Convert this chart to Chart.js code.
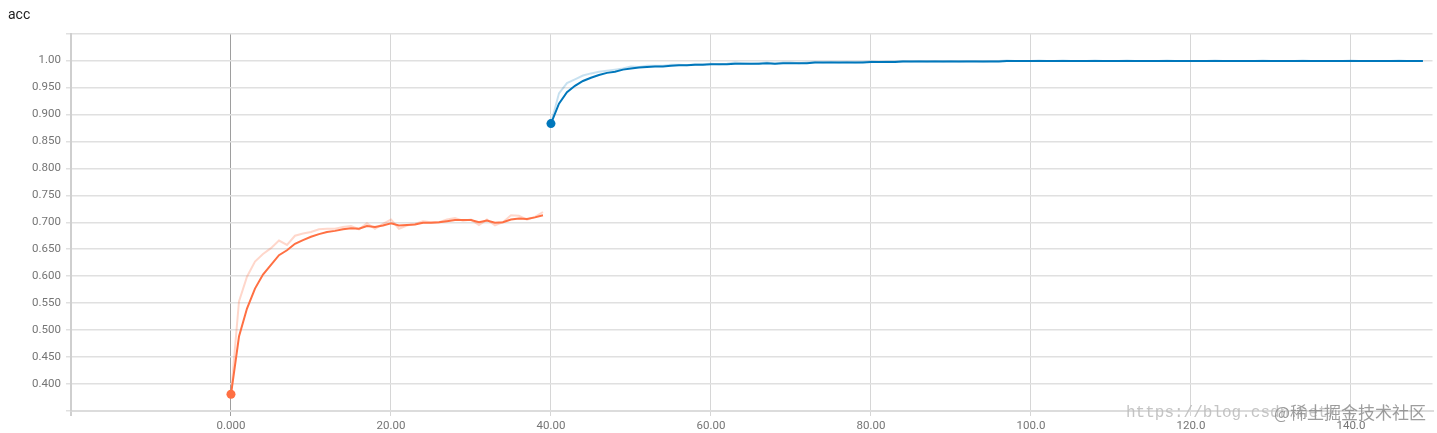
<!DOCTYPE html>
<html><head><meta charset="utf-8">
<script src="https://cdn.jsdelivr.net/npm/chart.js@4"></script>
<style>html,body{margin:0;padding:0;background:#fff;overflow:hidden}#wrap{width:1437px;height:433px;position:relative}</style>
</head><body><div id="wrap"><canvas id="c" width="1437" height="433"></canvas></div>
<script>
const titleText = 'acc';
const orangeStart = 0;
const orangeSmoothed = [
  0.381, 0.488, 0.540, 0.577, 0.603, 0.621, 0.639, 0.648, 0.660, 0.667,
  0.673, 0.678, 0.682, 0.684, 0.687, 0.689, 0.688, 0.693, 0.691, 0.694,
  0.698, 0.694, 0.695, 0.696, 0.699, 0.699, 0.700, 0.702, 0.704, 0.704,
  0.704, 0.700, 0.703, 0.699, 0.700, 0.705, 0.707, 0.706, 0.709, 0.713
];
const orangeRaw = [
  0.381, 0.553, 0.599, 0.627, 0.641, 0.652, 0.666, 0.658, 0.675, 0.679,
  0.682, 0.687, 0.688, 0.688, 0.691, 0.693, 0.687, 0.698, 0.688, 0.697,
  0.705, 0.688, 0.694, 0.697, 0.702, 0.700, 0.700, 0.705, 0.708, 0.703,
  0.705, 0.695, 0.705, 0.694, 0.700, 0.713, 0.712, 0.705, 0.710, 0.719
];
const blueStart = 40;
const blueSmoothed = [
  0.883, 0.920, 0.941, 0.953, 0.962, 0.968, 0.973, 0.977, 0.979, 0.983,
  0.985, 0.987, 0.988, 0.989, 0.989, 0.990, 0.991, 0.991, 0.992, 0.992,
  0.993, 0.993, 0.993, 0.994, 0.994, 0.994, 0.994, 0.995, 0.994, 0.995,
  0.995, 0.995, 0.995, 0.996, 0.996, 0.996, 0.996, 0.996, 0.996, 0.996,
  0.997, 0.997, 0.997, 0.997, 0.998, 0.998, 0.998, 0.998, 0.998, 0.998,
  0.998, 0.998, 0.998, 0.998, 0.998, 0.998, 0.998, 0.999, 0.999, 0.999,
  0.999, 0.999, 0.999, 0.999, 0.999, 0.999, 0.999, 0.999, 0.999, 0.999,
  0.999, 0.999, 0.999, 0.999, 0.999, 0.999, 0.999, 0.999, 0.999, 0.999,
  0.999, 0.999, 0.999, 0.999, 0.999, 0.999, 0.999, 0.999, 0.999, 0.999,
  0.999, 0.999, 0.999, 0.999, 0.999, 0.999, 0.999, 0.999, 0.999, 0.999,
  0.999, 0.999, 0.999, 0.999, 0.999, 0.999, 0.999, 0.999, 0.999, 0.999
];
const blueRaw = [
  0.883, 0.939, 0.958, 0.965, 0.972, 0.976, 0.979, 0.981, 0.983, 0.985,
  0.989, 0.988, 0.990, 0.990, 0.990, 0.992, 0.992, 0.991, 0.993, 0.993,
  0.994, 0.993, 0.994, 0.996, 0.995, 0.994, 0.995, 0.996, 0.994, 0.996,
  0.996, 0.995, 0.996, 0.997, 0.996, 0.997, 0.996, 0.997, 0.996, 0.997,
  0.998, 0.997, 0.998, 0.998, 0.999, 0.998, 0.999, 0.998, 0.999, 0.998,
  0.999, 0.998, 0.999, 0.999, 0.998, 0.999, 0.999, 1.000, 0.999, 0.999,
  0.999, 1.000, 0.999, 0.999, 1.000, 0.999, 0.999, 0.999, 1.000, 0.999,
  0.999, 0.999, 1.000, 0.999, 0.999, 0.999, 0.999, 1.000, 0.999, 0.999,
  0.999, 0.999, 0.999, 1.000, 0.999, 0.999, 0.999, 0.999, 0.999, 1.000,
  0.999, 0.999, 0.999, 0.999, 1.000, 0.999, 0.999, 0.999, 0.999, 0.999,
  1.000, 0.999, 0.999, 0.999, 0.999, 0.999, 1.000, 0.999, 0.999, 0.999
];
const xTicks = [-20, 0, 20, 40, 60, 80, 100, 120, 140];
const xTickLabels = ['', '0.000', '20.00', '40.00', '60.00', '80.00', '100.0', '120.0', '140.0'];
const yTicks = [0.35, 0.40, 0.45, 0.50, 0.55, 0.60, 0.65, 0.70, 0.75, 0.80, 0.85, 0.90, 0.95, 1.00, 1.05];
const yTickLabels = ['', '0.400', '0.450', '0.500', '0.550', '0.600', '0.650', '0.700', '0.750', '0.800', '0.850', '0.900', '0.950', '1.00', ''];
const watermarkUrl = 'https://blog.csdn.net/';
const watermarkSite = '@稀土掘金技术社区';

const toPoints = (arr, start) => arr.map((v, i) => ({ x: start + i, y: v }));
const firstDot = ctx => ctx.dataIndex === 0 ? 4.5 : 0;
const tickFont = { family: 'Roboto', size: 11.5 };

const watermark = {
  id: 'watermark',
  afterDraw(chart) {
    const c = chart.ctx;
    c.save();
    c.textBaseline = 'alphabetic';
    c.font = '16px "Liberation Mono"';
    c.fillStyle = 'rgba(190,190,190,0.9)';
    c.fillText(watermarkUrl, 1126, 417);
    c.textBaseline = 'middle';
    c.font = '17px "Noto Sans CJK SC"';
    c.fillStyle = 'rgba(140,140,140,0.85)';
    c.fillText(watermarkSite, 1274, 412.5);
    c.restore();
  }
};

new Chart(document.getElementById('c'), {
  type: 'line',
  data: {
    datasets: [
      { data: toPoints(orangeSmoothed, orangeStart), borderColor: '#ff7043', backgroundColor: '#ff7043',
        borderWidth: 2, pointRadius: firstDot, pointBorderWidth: 0, pointBackgroundColor: '#ff7043', order: 0, tension: 0 },
      { data: toPoints(blueSmoothed, blueStart), borderColor: '#0077bb', backgroundColor: '#0077bb',
        borderWidth: 2, pointRadius: firstDot, pointBorderWidth: 0, pointBackgroundColor: '#0077bb', order: 0, tension: 0 },
      { data: toPoints(orangeRaw, orangeStart), borderColor: 'rgba(255,112,67,0.28)', borderWidth: 2, pointRadius: 0, order: 1, tension: 0 },
      { data: toPoints(blueRaw, blueStart), borderColor: 'rgba(0,119,187,0.22)', borderWidth: 2, pointRadius: 0, order: 1, tension: 0 }
    ]
  },
  options: {
    responsive: false,
    animation: false,
    devicePixelRatio: 1,
    layout: { padding: { left: 8, right: 0, top: 0, bottom: 0 } },
    plugins: {
      legend: { display: false },
      tooltip: { enabled: false },
      title: {
        display: true, text: titleText, align: 'start', color: '#212121',
        font: { family: 'Roboto', size: 14, weight: 'normal' },
        padding: { top: 7, bottom: 9.7 }
      }
    },
    scales: {
      x: {
        type: 'linear', min: -20, max: 150.2,
        afterBuildTicks: s => { s.ticks = xTicks.map(v => ({ value: v })); },
        afterFit: s => { s.height = 22; },
        ticks: {
          autoSkip: false, maxRotation: 0, padding: 3, color: '#757575', font: tickFont,
          callback: v => { const i = xTicks.indexOf(v); return i >= 0 ? xTickLabels[i] : ''; }
        },
        grid: {
          color: ctx => (ctx.tick && ctx.tick.value === 0) ? '#9e9e9e' : (ctx.tick && ctx.tick.value === -20 ? '#cfcfcf' : '#d6d6d6'),
          lineWidth: ctx => (ctx.tick && ctx.tick.value === -20) ? 2 : 1,
          tickLength: 5, drawTicks: true
        },
        border: { display: true, color: '#dcdcdc', width: 2 }
      },
      y: {
        type: 'linear', min: 0.35, max: 1.05,
        afterBuildTicks: s => { s.ticks = yTicks.map(v => ({ value: v })); },
        afterFit: s => { s.width = 63; },
        ticks: {
          autoSkip: false, padding: 5, color: '#757575', font: tickFont,
          callback: v => { const i = yTicks.indexOf(v); return i >= 0 ? yTickLabels[i] : ''; }
        },
        grid: { color: '#e0e0e0', lineWidth: 1.5, tickLength: 5, drawTicks: true },
        border: { display: true, color: '#cfcfcf', width: 2 }
      }
    }
  },
  plugins: [watermark]
});
</script>
</body></html>
